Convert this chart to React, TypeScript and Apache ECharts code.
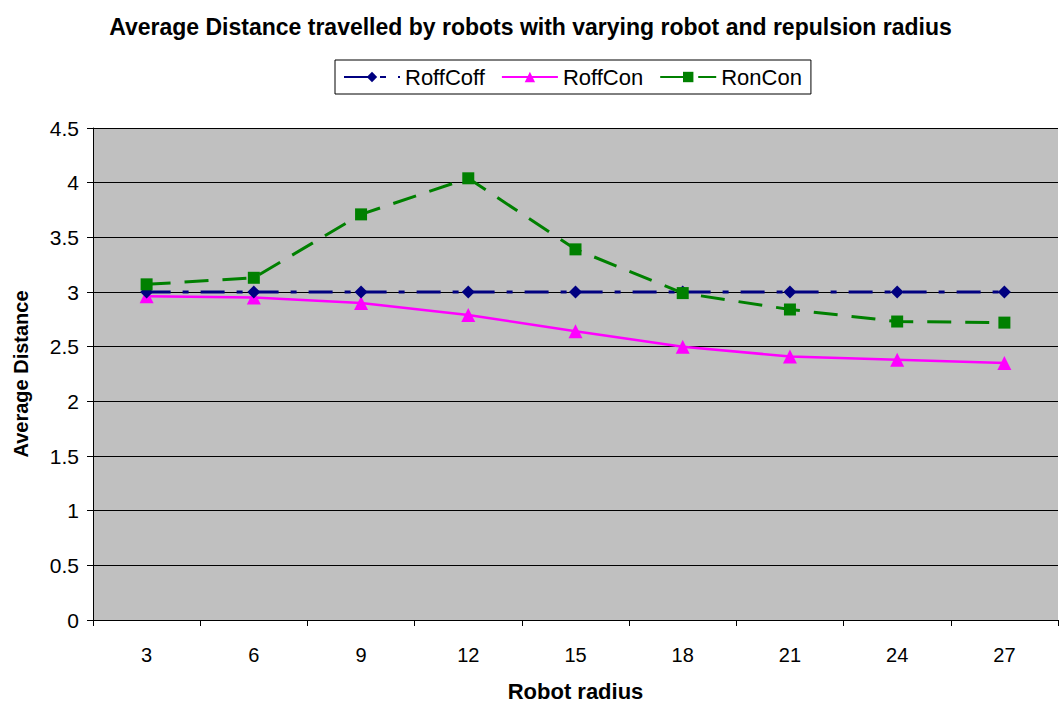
import React, { useEffect, useRef } from "react";
import * as echarts from "echarts";

const categories = ["3", "6", "9", "12", "15", "18", "21", "24", "27"];
const roffCoff = [3.0, 3.0, 3.0, 3.0, 3.0, 3.0, 3.0, 3.0, 3.0];
const roffCon = [2.96, 2.95, 2.9, 2.79, 2.64, 2.5, 2.41, 2.38, 2.35];
const ronCon = [3.07, 3.13, 3.71, 4.04, 3.39, 2.99, 2.84, 2.73, 2.72];
const yTicks = { min: 0, max: 4.5, interval: 0.5 };

const FONT = "'Liberation Sans', Arial, sans-serif";

export default function App() {
  const ref = useRef<HTMLDivElement>(null);
  useEffect(() => {
    document.body.style.margin = "0";
    const chart = echarts.init(ref.current!, null, { renderer: "svg" });
    chart.setOption({
      animation: false,
      backgroundColor: "#ffffff",
      title: {
        text: "Average Distance travelled by robots with varying robot and repulsion radius",
        left: "center",
        top: 10,
        textStyle: { fontFamily: FONT, fontSize: 23, fontWeight: "bold", color: "#000" },
      },
      legend: {
        top: 60,
        left: 335,
        borderColor: "#000",
        borderWidth: 1,
        borderRadius: 0,
        padding: [6, 9, 6, 8],
        itemGap: 16,
        itemWidth: 56,
        itemHeight: 13,
        textStyle: { fontFamily: FONT, fontSize: 22, color: "#000" },
        data: ["RoffCoff", "RoffCon", "RonCon"],
      },
      grid: {
        left: 93,
        right: 3,
        top: 128,
        bottom: 88,
        containLabel: false,
        outerBoundsMode: "none",
        show: true,
        backgroundColor: "#c0c0c0",
        borderWidth: 0,
      },
      xAxis: {
        type: "category",
        data: categories,
        boundaryGap: true,
        name: "Robot radius",
        nameLocation: "middle",
        nameGap: 60,
        nameTextStyle: { fontFamily: FONT, fontSize: 22, fontWeight: "bold", color: "#000" },
        axisLine: { lineStyle: { color: "#000", width: 1 } },
        axisTick: { show: true, inside: false, length: 6, lineStyle: { color: "#000" } },
        axisLabel: { fontFamily: FONT, fontSize: 20, color: "#000", margin: 25 },
        splitLine: { show: false },
      },
      yAxis: {
        type: "value",
        min: yTicks.min,
        max: yTicks.max,
        interval: yTicks.interval,
        name: "Average Distance",
        nameLocation: "middle",
        nameGap: 62,
        nameRotate: 90,
        nameTextStyle: { fontFamily: FONT, fontSize: 20, fontWeight: "bold", color: "#000" },
        axisLine: { show: true, lineStyle: { color: "#000", width: 1 } },
        axisTick: { show: true, inside: false, length: 6, lineStyle: { color: "#000" } },
        axisLabel: { fontFamily: FONT, fontSize: 21, color: "#000", margin: 14 },
        splitLine: { show: true, lineStyle: { color: "#000", width: 1 } },
      },
      series: [
        {
          name: "RoffCoff",
          type: "line",
          data: roffCoff,
          color: "#000080",
          symbol: "diamond",
          symbolSize: 13,
          lineStyle: { color: "#000080", width: 3, type: [24, 12, 6, 12] },
          itemStyle: { color: "#000080" },
          z: 3,
        },
        {
          name: "RoffCon",
          type: "line",
          data: roffCon,
          color: "#ff00ff",
          symbol: "triangle",
          symbolSize: 14,
          lineStyle: { color: "#ff00ff", width: 2.5, type: "solid" },
          itemStyle: { color: "#ff00ff" },
          z: 2,
        },
        {
          name: "RonCon",
          type: "line",
          data: ronCon,
          color: "#008000",
          symbol: "rect",
          symbolSize: 12,
          lineStyle: { color: "#008000", width: 3, type: [24, 14] },
          itemStyle: { color: "#008000" },
          z: 4,
        },
      ],
    });
    return () => chart.dispose();
  }, []);
  return <div ref={ref} style={{ width: 1061, height: 708 }} />;
}
